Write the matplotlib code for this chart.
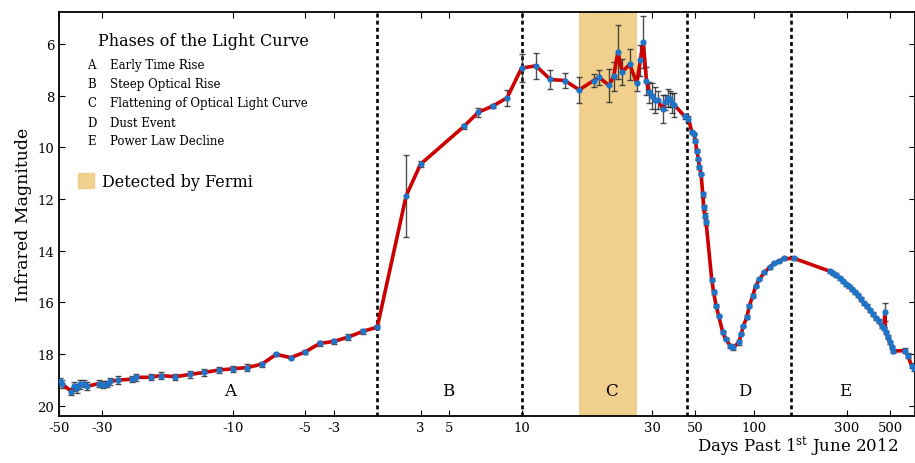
import matplotlib
matplotlib.use("Agg")
import matplotlib.pyplot as plt
from matplotlib.patches import Patch

plt.rcParams['font.family'] = ['DejaVu Serif']
plt.rcParams['mathtext.fontset'] = 'dejavuserif'

# light curve: days past 1st June 2012, magnitude, error
days = [-49.2, -48.0, -43.2, -41.8, -40.2, -38.8, -37.2, -36.1, -31.1, -29.7,
        -28.5, -27.4, -25.0, -21.0, -20.1, -16.9, -15, -14, -13, -12,
        -11, -10, -9, -8, -7, -6, -5, -4, -3, -2, -1, 0,
        2, 3, 6, 7, 8, 9, 10, 11,
        12, 13, 14, 15, 16, 18, 19, 20, 21, 23, 25, 26, 27, 28, 29, 30,
        31, 32, 34, 35, 36, 37, 38, 39,
        44, 46, 48, 49, 50, 50.7, 51.8, 52.3, 53.4, 54.5, 55.1, 56, 56.7,
        60.6, 62, 63.8, 65.8, 69, 71.3, 75.6, 78.3, 83.4, 85.8, 88, 91.7,
        94.6, 98.4, 102, 106.5, 113, 120, 127, 135, 143, 161,
        244, 253, 262, 275, 285, 295, 306, 317, 328, 340, 352, 365, 378,
        392, 406, 421, 436, 452, 466, 469, 473, 485, 497, 509, 516,
        593, 617, 643, 660]
mag = [19.06, 19.17, 19.45, 19.25, 19.32, 19.17, 19.14, 19.25, 19.14, 19.19,
       19.16, 19.06, 19.01, 18.97, 18.90, 18.90, 18.83, 18.88, 18.79, 18.71,
       18.62, 18.57, 18.52, 18.39, 18.01, 18.14, 17.92, 17.59, 17.51, 17.34, 17.12, 16.96,
       11.88, 10.65, 9.19, 8.64, 8.40, 8.08, 6.93, 6.84,
       7.37, 7.41, 7.77, 7.41, 7.29, 7.60, 7.25, 6.30, 7.07, 6.79, 7.52, 6.63, 5.93, 7.43, 7.87, 8.00,
       8.16, 8.16, 8.52, 8.26, 8.10, 8.13, 8.28, 8.36,
       8.80, 8.90, 9.42, 9.48, 9.74, 10.13, 10.45, 10.77, 11.03, 11.81, 12.32, 12.65, 12.90,
       15.12, 15.61, 16.13, 16.52, 17.16, 17.42, 17.68, 17.74, 17.55, 17.23, 16.91, 16.58,
       16.13, 15.74, 15.36, 15.10, 14.84, 14.64, 14.48, 14.39, 14.30, 14.30,
       14.79, 14.87, 14.94, 15.06, 15.18, 15.29, 15.37, 15.49, 15.60, 15.72, 15.87, 16.03, 16.14,
       16.30, 16.45, 16.61, 16.72, 16.92, 17.00, 16.36, 17.15, 17.34, 17.54, 17.73, 17.88,
       17.87, 18.07, 18.45, 18.54]
err = [0.15, 0.15, 0.15, 0.18, 0.18, 0.18, 0.15, 0.15, 0.13, 0.13,
       0.13, 0.13, 0.15, 0.13, 0.13, 0.12, 0.12, 0.12, 0.12, 0.12,
       0.12, 0.12, 0.12, 0.10, 0.05, 0.06, 0.08, 0.10, 0.10, 0.10, 0.10, 0.08,
       1.6, 0.12, 0.08, 0.18, 0.08, 0.3, 0.55, 0.5,
       0.35, 0.3, 0.5, 0.25, 0.3, 0.65, 0.55, 1.05, 0.5, 0.6, 0.3, 0.6, 1.0, 0.55, 0.4, 0.5,
       0.5, 0.35, 0.55, 0.3, 0.35, 0.3, 0.4, 0.45,
       0.1, 0.1, 0.05, 0.05, 0.05, 0.05, 0.05, 0.05, 0.05, 0.1, 0.1, 0.1, 0.1,
       0.05, 0.08, 0.05, 0.05, 0.05, 0.05, 0.08, 0.1, 0.08, 0.05, 0.05, 0.08,
       0.05, 0.05, 0.05, 0.05, 0.05, 0.05, 0.05, 0.05, 0.05, 0.05,
       0.06, 0.06, 0.06, 0.06, 0.06, 0.06, 0.06, 0.06, 0.06, 0.06, 0.06, 0.06, 0.06,
       0.06, 0.06, 0.06, 0.06, 0.06, 0.06, 0.35, 0.06, 0.06, 0.06, 0.06, 0.06,
       0.1, 0.1, 0.1, 0.1]

phase_bounds = [0, 10, 45, 155]
fermi_span = (14, 25)
phase_letters = ["A", "B", "C", "D", "E"]
phase_label_x = [-10.2, 4.9, 18.5, 89, 295]
phase_names = ["Early Time Rise", "Steep Optical Rise",
               "Flattening of Optical Light Curve", "Dust Event",
               "Power Law Decline"]
xticks = [-50, -30, -10, -5, -3, 3, 5, 10, 30, 50, 100, 300, 500]
yticks = [6, 8, 10, 12, 14, 16, 18, 20]

fig = plt.figure(figsize=(9.15, 4.64), dpi=100)
ax = fig.add_axes([0.0645, 0.1006, 0.9355, 0.8707])

ax.axvspan(fermi_span[0], fermi_span[1], color='#f0d08c', lw=0, zorder=0)
for b in phase_bounds:
    ax.axvline(b, color='k', lw=1.9, ls=(0, (1.5, 1.2)), zorder=1)

ax.errorbar(days, mag, yerr=err, fmt='none', ecolor='#222222', elinewidth=1,
            capsize=2.5, capthick=1, alpha=0.8, zorder=2)
ax.plot(days, mag, color='#cc0000', lw=2.6, zorder=3)
ax.plot(days, mag, 'o', color='#1f74c8', ms=4.5, mew=0, zorder=4)

ax.set_xscale('symlog', linthresh=15, linscale=1)
ax.set_xlim(-50, 670)
ax.set_ylim(20.41, 4.77)
ax.set_xticks(xticks)
ax.set_xticklabels([str(t) for t in xticks])
ax.xaxis.set_minor_locator(matplotlib.ticker.NullLocator())
ax.set_yticks(yticks)
ax.tick_params(axis='both', direction='in', top=True, right=True,
               labelsize=9.5, length=4)
for s in ax.spines.values():
    s.set_linewidth(1.3)

ax.set_ylabel("Infrared Magnitude", fontsize=12.5, labelpad=4)
fig.text(0.982, 0.012, r"Days Past 1$^{\mathrm{st}}$ June 2012",
         ha='right', va='bottom', fontsize=12)

for lx, lt in zip(phase_label_x, phase_letters):
    ax.text(lx, 19.4, lt, ha='center', va='center', fontsize=12)

fig.text(0.107, 0.9095, "Phases of the Light Curve", fontsize=11.5,
         ha='left', va='center')
row_y = [0.8599, 0.8179, 0.7769, 0.7349, 0.694]
for yy, lt, name in zip(row_y, phase_letters, phase_names):
    fig.text(0.0951, yy, lt, fontsize=8.5, ha='left', va='center')
    fig.text(0.1202, yy, name, fontsize=8.5, ha='left', va='center')

fig.legend(handles=[Patch(color='#f0d08c', label='Detected by Fermi')],
           loc='center left', bbox_to_anchor=(0.085, 0.607), frameon=False,
           fontsize=11.5, handlelength=1.0, handleheight=1.0,
           handletextpad=0.5, borderaxespad=0, borderpad=0)

fig.savefig('out.png', dpi=100)
